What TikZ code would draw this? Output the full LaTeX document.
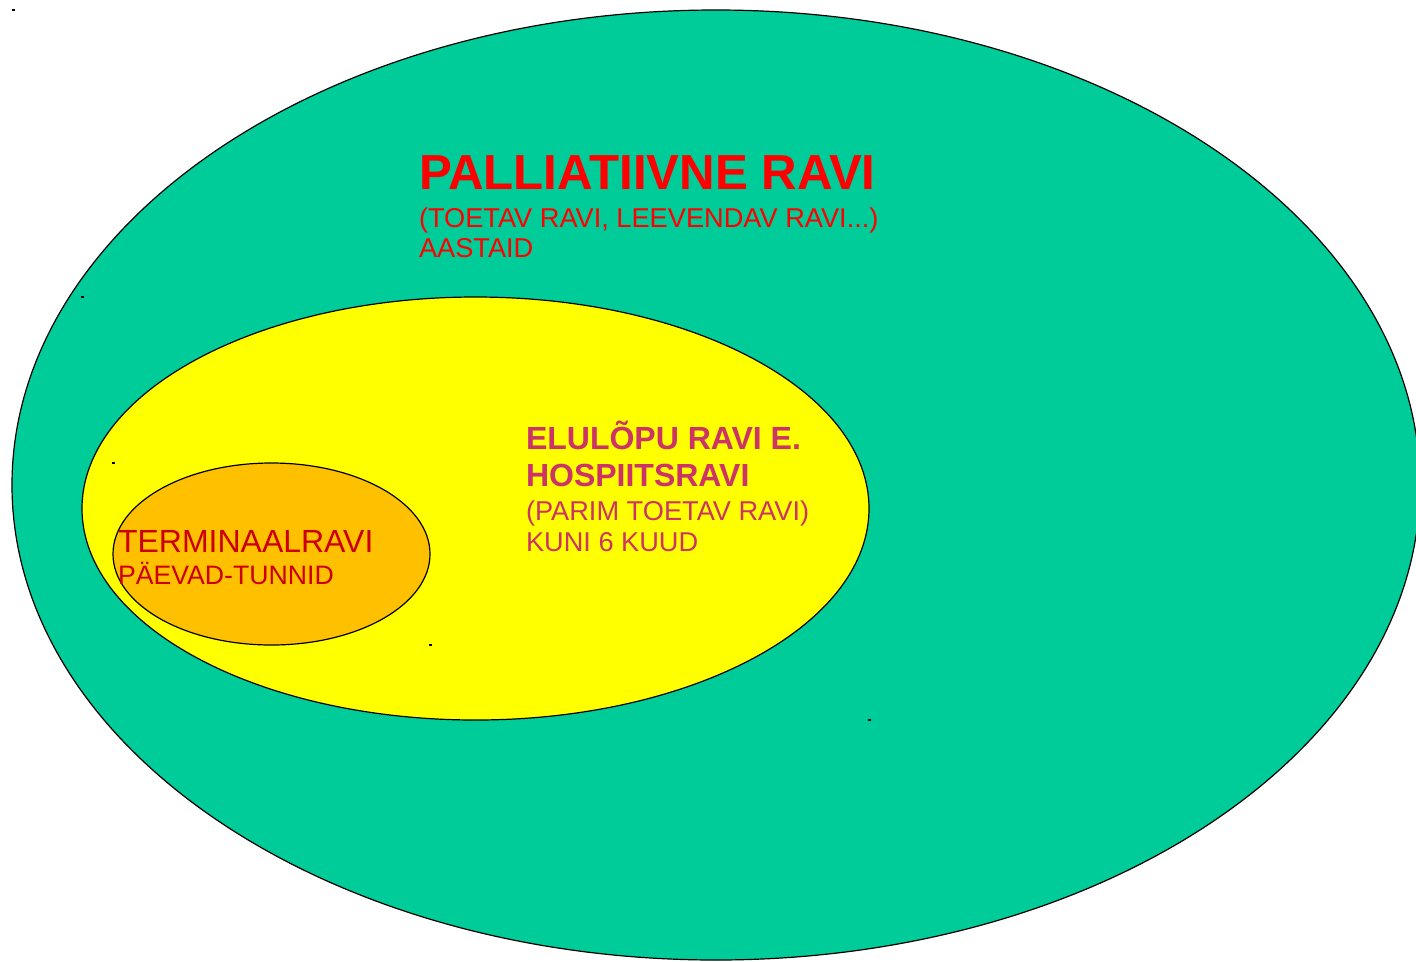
\documentclass[tikz,border=0pt]{standalone}
\usepackage{fontspec}
\setmainfont{Liberation Sans}
\definecolor{palgreen}{RGB}{0,204,153}
\definecolor{hospyellow}{RGB}{255,255,0}
\definecolor{termorange}{RGB}{255,192,0}
\definecolor{hosptext}{RGB}{204,51,102}
\definecolor{termtext}{RGB}{204,0,0}
\tikzset{
  zone/.style={draw=black,line width=0.9pt},
  txt/.style={anchor=base west,inner sep=0pt,outer sep=0pt},
  handle/.style={fill=black}
}
\begin{document}
\begin{tikzpicture}[x=0.75pt,y=-0.75pt]
\useasboundingbox (0,0) rectangle (1416,961);
% ellipses
\begin{scope}
\clip (0,0) rectangle (1416,961);
\draw[zone,fill=palgreen] (716,485) ellipse [x radius=704,y radius=475];
\end{scope}
\draw[zone,fill=hospyellow] (475.5,508.5) ellipse [x radius=393.5,y radius=211.5];
\draw[zone,fill=termorange] (271.5,554) ellipse [x radius=158.5,y radius=91];
% corner marks
\foreach \hx/\hy in {13/10,82/297,113/463,430/645,869/720}
  \fill[handle] (\hx-1.5,\hy-1) rectangle (\hx+1.5,\hy+1);
% texts
\node[txt,text=red,font=\fontsize{36.9}{40}\selectfont\bfseries] (pal) at (419,189) {PALLIATIIVNE RAVI};
\node[txt,text=red,font=\fontsize{20.4}{24}\selectfont] (palsub) at (419,227) {(TOETAV RAVI, LEEVENDAV RAVI...)};
\node[txt,text=red,font=\fontsize{20.4}{24}\selectfont] (palaeg) at (419,257) {AASTAID};
\node[txt,text=hosptext,font=\fontsize{24}{28}\selectfont\bfseries] (hosp) at (526,449) {ELULÕPU RAVI E.};
\node[txt,text=hosptext,font=\fontsize{24}{28}\selectfont\bfseries] (hospb) at (526,486) {HOSPIITSRAVI};
\node[txt,text=hosptext,font=\fontsize{20.4}{24}\selectfont] (hospsub) at (526,520) {(PARIM TOETAV RAVI)};
\node[txt,text=hosptext,font=\fontsize{20.4}{24}\selectfont] (hospaeg) at (526,551) {KUNI 6 KUUD};
\node[txt,text=termtext,font=\fontsize{24}{28}\selectfont] (term) at (118,552) {TERMINAALRAVI};
\node[txt,text=termtext,font=\fontsize{20}{24}\selectfont] (termaeg) at (118,584) {PÄEVAD-TUNNID};
\end{tikzpicture}
\end{document}
